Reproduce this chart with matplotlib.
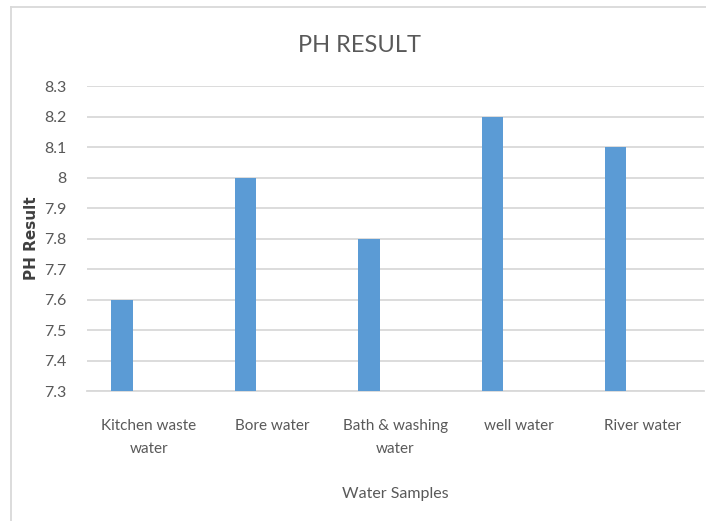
import matplotlib
matplotlib.use("Agg")
import matplotlib.pyplot as plt
from matplotlib.lines import Line2D

# pH readings for each water sample
categories = ["Kitchen waste\nwater", "Bore water", "Bath & washing\nwater", "well water", "River water"]
ph_values = [7.6, 8.0, 7.8, 8.2, 8.1]
y_ticks = [7.3, 7.4, 7.5, 7.6, 7.7, 7.8, 7.9, 8.0, 8.1, 8.2, 8.3]
y_tick_labels = ["7.3", "7.4", "7.5", "7.6", "7.7", "7.8", "7.9", "8", "8.1", "8.2", "8.3"]

TEXT_FONT = ["Lato", "DejaVu Sans"]
GRAY = "#595959"
GRID = "#d9d9d9"
BAR = "#5b9bd5"

W, H = 706, 521
fig = plt.figure(figsize=(W / 100, H / 100), dpi=100)
fig.patch.set_facecolor("white")

# chart frame: top and left edges
fig.add_artist(Line2D([11 / W, 1.0], [1 - 7 / H, 1 - 7 / H],
                      transform=fig.transFigure, color=GRID, linewidth=1.3))
fig.add_artist(Line2D([11 / W, 11 / W], [0.0, 1 - 7 / H],
                      transform=fig.transFigure, color=GRID, linewidth=1.3))

ax = fig.add_axes([87 / W, 1 - 391 / H, (704 - 87) / W, (391 - 86) / H])
x = list(range(len(categories)))
ax.bar([i - 0.216 for i in x], ph_values, width=0.173, color=BAR, zorder=3)

ax.set_xlim(-0.5, len(categories) - 0.5)
ax.set_ylim(7.3, 8.3)
ax.set_yticks(y_ticks)
ax.set_yticklabels(y_tick_labels, fontfamily=TEXT_FONT, fontsize=11.5, color=GRAY)
ax.set_xticks(x)
ax.set_xticklabels(categories, fontfamily=TEXT_FONT, fontsize=11, color=GRAY,
                   linespacing=1.8, va="top")
ax.tick_params(axis="y", length=0, pad=15)
ax.tick_params(axis="x", length=0, pad=20)

ax.grid(axis="y", color=GRID, linewidth=1.3, zorder=0)
for s in ["top", "right", "left"]:
    ax.spines[s].set_visible(False)
ax.spines["bottom"].set_color(GRID)
ax.spines["bottom"].set_linewidth(1.3)

fig.text(360 / W, 1 - 46 / H, "PH RESULT", ha="center", va="center",
         fontfamily=TEXT_FONT, fontsize=17, color=GRAY)
fig.text(395 / W, 1 - 494 / H, "Water Samples", ha="center", va="center",
         fontfamily=TEXT_FONT, fontsize=11.5, color=GRAY)
fig.text(31 / W, 1 - 238 / H, "PH Result", ha="center", va="center",
         rotation=90, fontfamily="DejaVu Sans", fontsize=11,
         fontweight="bold", color="#404040")

fig.savefig("out.png", dpi=100)
